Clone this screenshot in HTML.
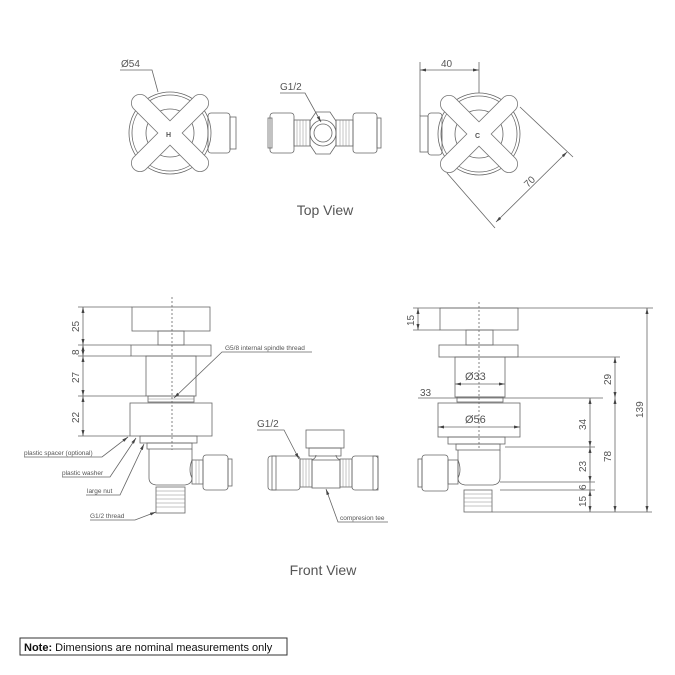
<!DOCTYPE html>
<html><head><meta charset="utf-8"><style>
html,body{margin:0;padding:0;background:#fff;}
svg{display:block;}
text{font-family:"Liberation Sans",sans-serif;fill:#555;}
.t{stroke-width:0.5;stroke:#888;}
</style></head><body>
<svg width="675" height="675" viewBox="0 0 675 675" xmlns="http://www.w3.org/2000/svg">
<defs>
<marker id="a" markerWidth="6" markerHeight="6" refX="6" refY="3" orient="auto-start-reverse" markerUnits="userSpaceOnUse"><path d="M0,1.5 L6,3 L0,4.5z" fill="#444"/></marker>
</defs>
<g fill="none" stroke="#666" stroke-width="0.8">

<!-- TOP LEFT HANDLE -->
<rect x="208" y="113" width="22" height="40" rx="3"/>
<rect x="230" y="117" width="6" height="32"/>
<circle cx="170" cy="133" r="41"/>
<circle cx="170" cy="133" r="38"/>
<circle cx="170" cy="133" r="24"/>
<g stroke-linecap="round">
<line x1="140" y1="103" x2="200" y2="163" stroke="#777" stroke-width="18"/>
<line x1="200" y1="103" x2="140" y2="163" stroke="#777" stroke-width="18"/>
<line x1="140" y1="103" x2="200" y2="163" stroke="#fff" stroke-width="16.4"/>
<line x1="200" y1="103" x2="140" y2="163" stroke="#fff" stroke-width="16.4"/>
</g>
<polyline points="120,70 152,70 158,92"/>

<!-- TOP MIDDLE TEE -->
<rect x="270" y="113" width="24" height="40" rx="3"/>
<rect x="268" y="118" width="4" height="30"/>
<rect x="294" y="120" width="16" height="26"/>
<path class="t" d="M297,120v26M300,120v26M303,120v26M306,120v26"/>
<polygon points="310,121 316,112 330,112 336,121 336,145 330,154 316,154 310,145"/>
<circle cx="323" cy="133" r="13"/>
<circle cx="323" cy="133" r="9"/>
<rect x="336" y="120" width="17" height="26"/>
<path class="t" d="M340,120v26M343,120v26M346,120v26M349,120v26"/>
<rect x="353" y="113" width="24" height="40" rx="3"/>
<rect x="377" y="118" width="4" height="30"/>
<polyline points="280,93 305,93 321,122" marker-end="url(#a)"/>

<!-- TOP RIGHT HANDLE -->
<rect x="420" y="116" width="8" height="36"/>
<rect x="428" y="113" width="14" height="42" rx="3"/>
<circle cx="479" cy="134" r="41"/>
<circle cx="479" cy="134" r="38"/>
<circle cx="479" cy="134" r="24"/>
<g stroke-linecap="round">
<line x1="449" y1="104" x2="509" y2="164" stroke="#777" stroke-width="18"/>
<line x1="509" y1="104" x2="449" y2="164" stroke="#777" stroke-width="18"/>
<line x1="449" y1="104" x2="509" y2="164" stroke="#fff" stroke-width="16.4"/>
<line x1="509" y1="104" x2="449" y2="164" stroke="#fff" stroke-width="16.4"/>
</g>
<line x1="420" y1="62" x2="420" y2="116"/>
<line x1="479" y1="62" x2="479" y2="93"/>
<line x1="420" y1="70" x2="479" y2="70" marker-start="url(#a)" marker-end="url(#a)"/>
<line x1="520" y1="107" x2="573" y2="157"/>
<line x1="447" y1="173" x2="495" y2="228"/>
<line x1="567" y1="152" x2="496" y2="222" marker-start="url(#a)" marker-end="url(#a)"/>

<!-- FRONT LEFT -->
<rect x="132" y="307" width="78" height="24"/>
<rect x="158" y="331" width="26" height="14"/>
<rect x="131" y="345" width="80" height="11"/>
<rect x="146" y="356" width="50" height="40"/>
<rect x="148" y="396" width="46" height="6"/>
<path class="t" d="M148,399h46"/>
<rect x="130" y="403" width="82" height="33"/>
<rect x="140" y="436" width="57" height="7"/>
<rect x="147" y="443" width="45" height="6"/>
<path d="M149,449 L149,478 Q149,484 156,485 L185,485 Q192,484 192,478 L192,449"/>
<path d="M192,460 Q188,470 192,478"/>
<rect x="192" y="460" width="11" height="24"/>
<path class="t" d="M196,460v24M199,460v24"/>
<rect x="203" y="455" width="25" height="35" rx="3"/>
<rect x="228" y="459" width="4" height="27"/>
<rect x="156" y="487" width="29" height="26"/>
<path class="t" d="M156,491h29M156,495h29M156,499h29M156,503h29M156,507h29"/>
<line x1="172" y1="297" x2="172" y2="450" stroke-dasharray="2,2"/>
<path d="M78,307h54M78,345h53M78,356h53M78,396h68M78,436h52"/>
<line x1="83" y1="307" x2="83" y2="345" marker-start="url(#a)" marker-end="url(#a)"/>
<line x1="83" y1="345" x2="83" y2="356" marker-start="url(#a)" marker-end="url(#a)"/>
<line x1="83" y1="356" x2="83" y2="396" marker-start="url(#a)" marker-end="url(#a)"/>
<line x1="83" y1="396" x2="83" y2="436" marker-start="url(#a)" marker-end="url(#a)"/>
<polyline points="312,352 222,352 174,398" marker-end="url(#a)"/>
<polyline points="24,457 102,457 128,437" marker-end="url(#a)"/>
<polyline points="62,477 110,477 136,438" marker-end="url(#a)"/>
<polyline points="86,495 120,495 144,444" marker-end="url(#a)"/>
<polyline points="90,520 135,520 156,512" marker-end="url(#a)"/>

<!-- FRONT MIDDLE TEE -->
<rect x="306" y="430" width="38" height="18"/>
<rect x="309" y="448" width="32" height="8"/>
<rect x="268" y="456" width="32" height="34" rx="3"/>
<rect x="272" y="456" width="4" height="34"/>
<rect x="300" y="459" width="12" height="28"/>
<path class="t" d="M303,459v28M306,459v28M309,459v28"/>
<path d="M312,460 Q316,458 316,455 M336,455 Q336,458 340,460"/>
<rect x="312" y="460" width="28" height="28"/>
<rect x="340" y="459" width="12" height="28"/>
<path class="t" d="M343,459v28M346,459v28M349,459v28"/>
<rect x="352" y="456" width="26" height="34" rx="3"/>
<rect x="373" y="456" width="5" height="34"/>
<polyline points="257,430 284,430 299,459" marker-end="url(#a)"/>
<polyline points="388,522 338,522 326,489" marker-end="url(#a)"/>

<!-- FRONT RIGHT -->
<rect x="440" y="308" width="78" height="22"/>
<rect x="466" y="330" width="27" height="15"/>
<rect x="439" y="345" width="79" height="12"/>
<rect x="455" y="357" width="50" height="40"/>
<rect x="457" y="397" width="46" height="5"/>
<rect x="438" y="403" width="82" height="34"/>
<rect x="448" y="437" width="57" height="7"/>
<rect x="456" y="444" width="44" height="6"/>
<path d="M458,450 L458,478 Q458,484 465,485 L493,485 Q500,484 500,478 L500,450"/>
<path d="M458,460 Q462,470 458,478"/>
<rect x="448" y="460" width="10" height="24"/>
<rect x="422" y="455" width="26" height="36" rx="3"/>
<rect x="418" y="459" width="4" height="28"/>
<rect x="464" y="490" width="28" height="22"/>
<path class="t" d="M464,494h28M464,498h28M464,502h28M464,506h28"/>
<line x1="479" y1="302" x2="479" y2="448" stroke-dasharray="2,2"/>
<path d="M413,308h240M413,330h27M505,357h115M418,398h185M505,447h90M500,482h95M500,490h95M492,512h160"/>
<line x1="418" y1="308" x2="418" y2="330" marker-start="url(#a)" marker-end="url(#a)"/>
<line x1="455" y1="384" x2="505" y2="384" marker-start="url(#a)" marker-end="url(#a)"/>
<line x1="438" y1="427" x2="520" y2="427" marker-start="url(#a)" marker-end="url(#a)"/>
<line x1="590" y1="398" x2="590" y2="447" marker-start="url(#a)" marker-end="url(#a)"/>
<line x1="590" y1="447" x2="590" y2="482" marker-start="url(#a)" marker-end="url(#a)"/>
<line x1="590" y1="482" x2="590" y2="490" />
<line x1="590" y1="490" x2="590" y2="512" marker-start="url(#a)" marker-end="url(#a)"/>
<line x1="615" y1="357" x2="615" y2="398" marker-start="url(#a)" marker-end="url(#a)"/>
<line x1="615" y1="398" x2="615" y2="512" marker-start="url(#a)" marker-end="url(#a)"/>
<line x1="647" y1="308" x2="647" y2="512" marker-start="url(#a)" marker-end="url(#a)"/>

<!-- Note box -->
<rect x="20" y="638" width="267" height="17" stroke="#333" stroke-width="1"/>
</g>

<g font-size="10">
<text x="121" y="67">Ø54</text>
<text x="280" y="90">G1/2</text>
<text x="441" y="67">40</text>
<text x="0" y="0" transform="translate(528,188) rotate(-45)">70</text>
<text x="166" y="137" font-size="7" font-weight="bold">H</text>
<text x="475" y="138" font-size="7" font-weight="bold">C</text>
<text x="0" y="0" transform="translate(79,332) rotate(-90)">25</text>
<text x="0" y="0" transform="translate(79,355) rotate(-90)">8</text>
<text x="0" y="0" transform="translate(79,383) rotate(-90)">27</text>
<text x="0" y="0" transform="translate(79,423) rotate(-90)">22</text>
<text x="257" y="427">G1/2</text>
<text x="0" y="0" transform="translate(414,326) rotate(-90)">15</text>
<text x="465" y="380" font-size="11">Ø33</text>
<text x="420" y="396">33</text>
<text x="465" y="423" font-size="11">Ø56</text>
<text x="0" y="0" transform="translate(586,430) rotate(-90)">34</text>
<text x="0" y="0" transform="translate(586,472) rotate(-90)">23</text>
<text x="0" y="0" transform="translate(586,490) rotate(-90)">6</text>
<text x="0" y="0" transform="translate(586,507) rotate(-90)">15</text>
<text x="0" y="0" transform="translate(611,385) rotate(-90)">29</text>
<text x="0" y="0" transform="translate(611,462) rotate(-90)">78</text>
<text x="0" y="0" transform="translate(643,418) rotate(-90)">139</text>
</g>
<g font-size="6.5">
<text x="225" y="350">G5/8 internal spindle thread</text>
<text x="24" y="455">plastic spacer (optional)</text>
<text x="62" y="475">plastic washer</text>
<text x="87" y="493">large nut</text>
<text x="90" y="518">G1/2 thread</text>
<text x="340" y="520">compresion tee</text>
</g>
<text x="325" y="215" font-size="14" text-anchor="middle">Top View</text>
<text x="323" y="575" font-size="14" text-anchor="middle">Front View</text>
<text x="24" y="651" font-size="11" style="fill:#111"><tspan font-weight="bold">Note:</tspan> Dimensions are nominal measurements only</text>
</svg>
</body></html>
